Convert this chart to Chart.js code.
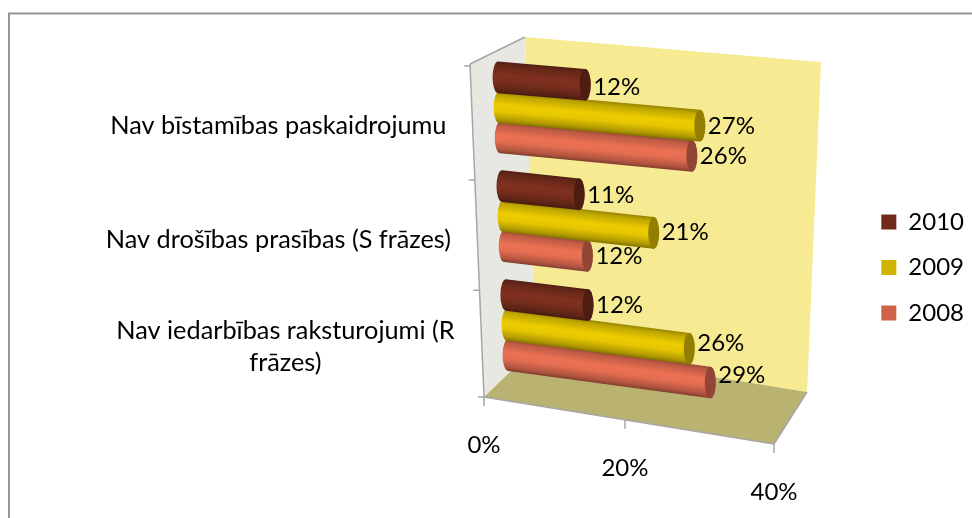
<!DOCTYPE html>
<html><head><meta charset="utf-8">
<style>html,body{margin:0;padding:0;background:#fff}canvas{display:block}</style>
<script src="https://cdn.jsdelivr.net/npm/chart.js@4"></script>
</head><body><canvas id="c" width="972" height="518"></canvas>
<script>
const categories = [['Nav bīstamības paskaidrojumu'], ['Nav drošības prasības (S frāzes)'], ['Nav iedarbības raksturojumi (R', 'frāzes)']];
const seriesNames = ['2010', '2009', '2008'];
const values2010 = [12, 11, 12];
const values2009 = [27, 21, 26];
const values2008 = [26, 12, 29];
const seriesColors = ['#6f2a1a', '#d0b400', '#cf634a'];
const FONT = 'Lato, Calibri, sans-serif';
const FS = 24;
const FS_CAT = 25.3;

/* oblique projection of the 3-D chart box */
const box = {
  fl: [484, 397], fr: [774, 444], ftl: [470, 64],
  bl: [535, 348], br: [807, 392], btl: [525, 37], btr: [821, 62]
};
const persp = (t, r) => t / (t + (1 - t) * r);
let chartRef = null;
function barLine(c, y) { return 107 + (y - c.scales.y.getPixelForTick(0)) * 0.985; }
function project(c, value, y) {
  const Y = barLine(c, y);
  const xl = 493 + (Y - 76) * 0.0362;
  const k = 7.62 - (Y - 107) * 0.00192;
  const s = 0.085 + (Y - 76) * 0.000181;
  const len = value * k;
  return { Y, xs: xl + 5, ys: Y + 5 * s, xe: xl + len, ye: Y + len * s, s };
}
function shade(hex, f) {
  const n = parseInt(hex.slice(1), 16);
  const ch = v => Math.max(0, Math.min(255, Math.round(v * f)));
  return `rgb(${ch(n >> 16)},${ch((n >> 8) & 255)},${ch(n & 255)})`;
}
Chart.BarElement.prototype.draw = function (ctx) {
  const c = chartRef;
  const p = this.getProps(['x', 'y', 'height']);
  const value = c.scales.x.getValueForPixel(p.x);
  const { xs, ys, xe, ye, s } = project(c, value, p.y);
  const col = this.options.backgroundColor;
  const h = p.height * 0.985 / 2 * 1.05, rx = 5.5;
  const nl = Math.hypot(s, 1), nx = -s / nl * h, ny = 1 / nl * h;
  const g = ctx.createLinearGradient(xs - nx, ys - ny, xs + nx, ys + ny);
  g.addColorStop(0, shade(col, 0.72));
  g.addColorStop(0.12, shade(col, 0.92));
  g.addColorStop(0.42, shade(col, 1.14));
  g.addColorStop(0.62, shade(col, 1.1));
  g.addColorStop(0.88, shade(col, 0.85));
  g.addColorStop(1, shade(col, 0.62));
  ctx.save();
  ctx.beginPath();
  ctx.ellipse(xs, ys, rx, h, 0, Math.PI / 2, Math.PI * 1.5);
  ctx.lineTo(xe, ye - h);
  ctx.ellipse(xe, ye, rx, h, 0, -Math.PI / 2, Math.PI / 2);
  ctx.closePath();
  ctx.fillStyle = g;
  ctx.fill();
  ctx.beginPath();
  ctx.ellipse(xe, ye, rx, h, 0, 0, Math.PI * 2);
  ctx.fillStyle = shade(col, 0.7);
  ctx.fill();
  ctx.restore();
};

function quad(ctx, pts, fill) {
  ctx.beginPath();
  pts.forEach((q, i) => i ? ctx.lineTo(q[0], q[1]) : ctx.moveTo(q[0], q[1]));
  ctx.closePath();
  ctx.fillStyle = fill;
  ctx.fill();
}
function seg(ctx, a, b, d, e) {
  ctx.beginPath();
  ctx.moveTo(a, b);
  ctx.lineTo(d, e);
  ctx.stroke();
}
const frontT = v => persp(v / 40, 1.057);
const yLabelShift = [[0, 5], [0, 8], [7, 5]];
const boxPlugin = {
  id: 'box3d',
  beforeInit(c) { chartRef = c; },
  beforeDraw(c) {
    const ctx = c.ctx;
    ctx.save();
    ctx.fillStyle = '#fff';
    ctx.fillRect(0, 0, c.width, c.height);
    ctx.strokeStyle = '#969696';
    ctx.lineWidth = 2;
    ctx.strokeRect(9, 13.5, 1100, 1100);
    ctx.restore();
    // tick labels follow the slanted axes
    c.scales.x._computeLabelArea = () => undefined;
    c.scales.y.getLabelItems().forEach((it, i) => {
      if (it._moved) return; it._moved = true;
      it.options.translation[0] += yLabelShift[i][0];
      it.options.translation[1] += yLabelShift[i][1];
    });
    c.scales.x.getLabelItems().forEach((it, i) => {
      if (it._moved) return; it._moved = true;
      const t = frontT(c.scales.x.ticks[i].value);
      it.options.translation[0] = box.fl[0] + t * (box.fr[0] - box.fl[0]);
      it.options.translation[1] = box.fl[1] + t * (box.fr[1] - box.fl[1]) + 48;
      it.textOffset = 0;
      it.options.textBaseline = 'middle';
      it.options.textAlign = 'center';
    });
  },
  beforeDatasetsDraw(c) {
    const ctx = c.ctx, x = c.scales.x;
    ctx.save();
    quad(ctx, [box.btl, box.btr, box.br, box.bl], '#f6ea93');
    quad(ctx, [box.ftl, box.btl, box.bl, box.fl], '#e8e8e2');
    quad(ctx, [box.fl, box.fr, box.br, box.bl], '#b9b270');
    ctx.strokeStyle = '#a6a6a6';
    ctx.lineWidth = 1.5;
    seg(ctx, box.ftl[0], box.ftl[1], box.btl[0], box.btl[1]);
    seg(ctx, box.ftl[0], box.ftl[1], box.fl[0], box.fl[1]);
    seg(ctx, box.fl[0], box.fl[1], box.fr[0], box.fr[1]);
    seg(ctx, box.fr[0], box.fr[1], box.br[0], box.br[1]);
    for (let i = 0; i <= c.scales.y.ticks.length; i++) {
      const t = persp(i / c.scales.y.ticks.length, 0.952);
      const ax = box.ftl[0] + t * (box.fl[0] - box.ftl[0]);
      const ay = box.ftl[1] + 2 + t * (box.fl[1] - box.ftl[1] - 2);
      seg(ctx, ax - 6, ay, ax, ay);
    }
    x.ticks.forEach(tk => {
      const t = frontT(tk.value);
      const ax = box.fl[0] + t * (box.fr[0] - box.fl[0]);
      const ay = box.fl[1] + t * (box.fr[1] - box.fl[1]);
      seg(ctx, ax, ay, ax, ay + 9);
    });
    ctx.restore();
  },
  afterDatasetsDraw(c) {
    const ctx = c.ctx;
    ctx.save();
    ctx.font = FS + 'px ' + FONT;
    ctx.fillStyle = '#000';
    ctx.textBaseline = 'middle';
    ctx.textAlign = 'left';
    c.data.datasets.forEach((ds, di) => {
      c.getDatasetMeta(di).data.forEach((el, i) => {
        const p = project(c, ds.data[i], el.y);
        ctx.fillText(ds.data[i] + '%', p.xe + 8, p.Y + 3.5 + 0.6 * ds.data[i]);
      });
    });
    ctx.restore();
  }
};

new Chart(document.getElementById('c'), {
  type: 'bar',
  data: {
    labels: categories,
    datasets: [
      { label: seriesNames[0], data: values2010, backgroundColor: seriesColors[0] },
      { label: seriesNames[1], data: values2009, backgroundColor: seriesColors[1] },
      { label: seriesNames[2], data: values2008, backgroundColor: seriesColors[2] }
    ]
  },
  options: {
    indexAxis: 'y',
    responsive: false,
    animation: false,
    devicePixelRatio: 1,
    categoryPercentage: 0.83,
    barPercentage: 1,
    clip: false,
    layout: { autoPadding: false, padding: { top: 66, right: -2, bottom: 49, left: 0 } },
    scales: {
      x: {
        min: 0, max: 40,
        grid: { display: false }, border: { display: false },
        afterFit(s) { s.height = 72; },
        ticks: { stepSize: 20, color: '#000', maxRotation: 0, autoSkip: false,
          font: { family: FONT, size: FS }, callback: v => v + '%' }
      },
      y: {
        grid: { display: false }, border: { display: false },
        afterFit(s) { s.width = 484; },
        ticks: { color: '#000', crossAlign: 'center', padding: 25, autoSkip: false,
          font: { family: FONT, size: FS_CAT, lineHeight: 1.3 } }
      }
    },
    plugins: {
      tooltip: { enabled: false },
      legend: {
        position: 'right',
        labels: { color: '#000', boxWidth: 15, boxHeight: 15, padding: 21.5,
          font: { family: FONT, size: FS } }
      }
    }
  },
  plugins: [boxPlugin]
});
</script></body></html>
